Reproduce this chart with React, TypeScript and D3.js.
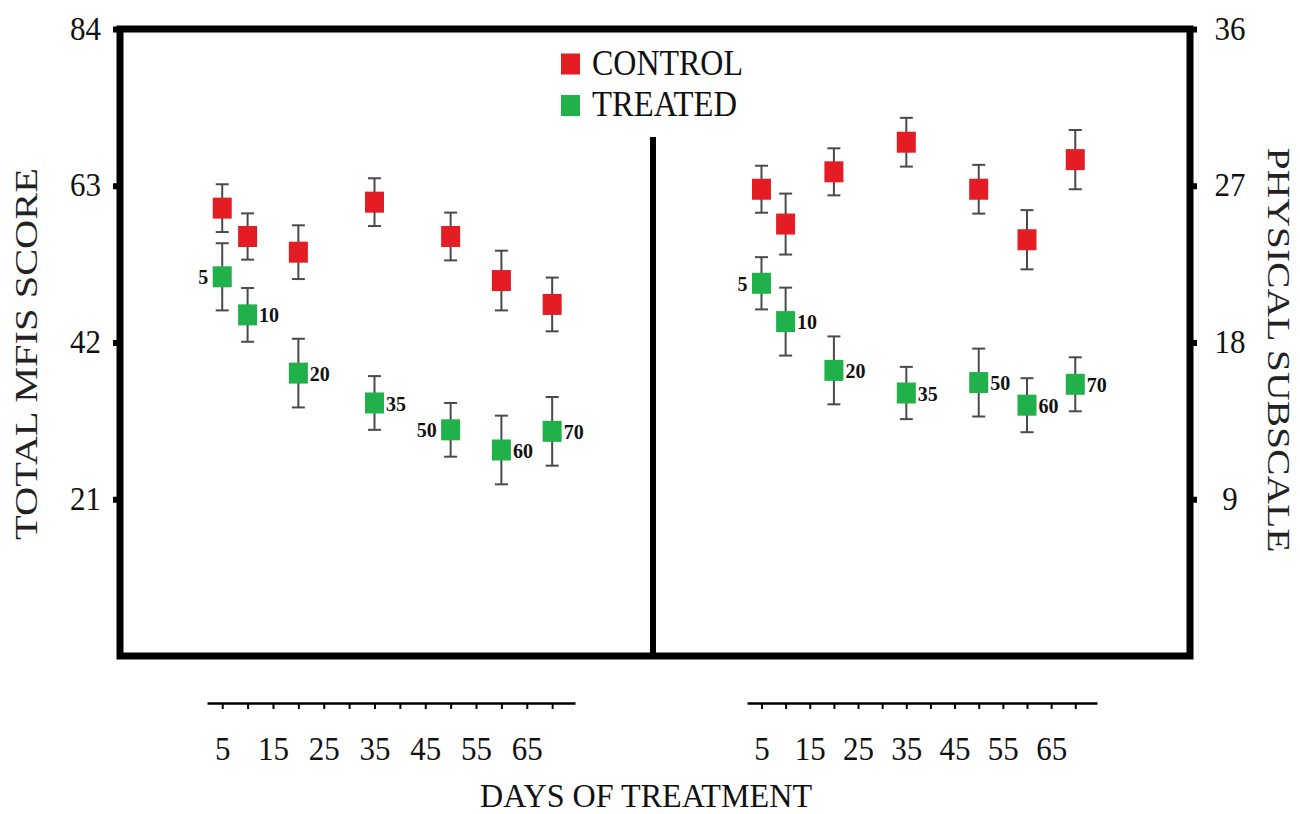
import React, { useEffect, useRef } from 'react';
import * as d3 from 'd3';

const days = [5, 10, 20, 35, 50, 60, 70];

// left panel: total MFIS score
const mfisControl = [60.0, 56.2, 54.1, 60.8, 56.2, 50.3, 47.1];
const mfisControlErr = [3.2, 3.1, 3.6, 3.2, 3.2, 4.0, 3.6];
const mfisTreated = [50.8, 45.7, 37.9, 33.9, 30.3, 27.6, 30.1];
const mfisTreatedErr = [4.5, 3.6, 4.6, 3.6, 3.6, 4.6, 4.6];

// right panel: physical subscale
const physControl = [26.8, 24.8, 27.8, 29.5, 26.8, 23.9, 28.5];
const physControlErr = [1.35, 1.75, 1.35, 1.4, 1.4, 1.7, 1.7];
const physTreated = [21.4, 19.2, 16.4, 15.1, 15.7, 14.4, 15.6];
const physTreatedErr = [1.5, 1.95, 1.95, 1.5, 1.95, 1.55, 1.55];

const leftTicks = [21, 42, 63, 84];
const rightTicks = [9, 18, 27, 36];
const dayTicks = [5, 10, 15, 20, 25, 30, 35, 40, 45, 50, 55, 60, 65, 70];
const dayLabels = [5, 15, 25, 35, 45, 55, 65];

// which treated labels sit left of the marker
const leftLabelsMfis = [5, 50];
const leftLabelsPhys = [5];

const RED = '#e41d25';
const GREEN = '#20b14b';
const FONT = '"Liberation Serif", "Times New Roman", serif';
const STRETCH = 1.12; // the source image text is a bit taller than wide

function App() {
  const ref = useRef<SVGSVGElement>(null);

  useEffect(() => {
    document.body.style.margin = '0';
    const svg = d3.select(ref.current);
    svg.selectAll('*').remove();

    const frame = { left: 120, top: 29, right: 1190, bottom: 656 };
    const divider = { x: 653, top: 137 };

    const yLeft = d3.scaleLinear().domain([0, 84]).range([frame.bottom, frame.top]);
    const yRight = d3.scaleLinear().domain([0, 36]).range([frame.bottom, frame.top]);
    const xLeft = d3.scaleLinear().domain([2, 74.5]).range([207, 575]);
    const xRight = d3.scaleLinear().domain([2, 74.5]).range([747, 1097]);

    // y axes
    const gl = svg.append('g')
      .attr('transform', `translate(${frame.left},0)`)
      .call(d3.axisLeft(yLeft).tickValues(leftTicks).tickSize(7).tickPadding(12).tickSizeOuter(0));
    gl.select('.domain').remove();
    gl.selectAll('.tick line').attr('stroke', '#000').attr('stroke-width', 6);
    gl.selectAll('.tick text')
      .attr('dy', '0.29em')
      .attr('transform', `scale(1,${STRETCH})`)
      .attr('font-family', FONT).attr('font-size', 31).attr('fill', '#111');

    const gr = svg.append('g')
      .attr('transform', `translate(${frame.right},0)`)
      .call(d3.axisRight(yRight).tickValues(rightTicks).tickSize(7).tickPadding(33).tickSizeOuter(0));
    gr.select('.domain').remove();
    gr.selectAll('.tick line').attr('stroke', '#000').attr('stroke-width', 6);
    gr.selectAll('.tick text')
      .attr('dy', '0.29em')
      .attr('transform', `scale(1,${STRETCH})`)
      .attr('text-anchor', 'middle')
      .attr('font-family', FONT).attr('font-size', 31).attr('fill', '#111');

    // frame + divider
    svg.append('rect')
      .attr('x', frame.left).attr('y', frame.top)
      .attr('width', frame.right - frame.left).attr('height', frame.bottom - frame.top)
      .attr('fill', 'none').attr('stroke', '#000').attr('stroke-width', 7);
    svg.append('line')
      .attr('x1', divider.x).attr('x2', divider.x)
      .attr('y1', divider.top).attr('y2', frame.bottom)
      .attr('stroke', '#000').attr('stroke-width', 6);

    // x axes below the frame
    [xLeft, xRight].forEach(x => {
      const g = svg.append('g')
        .attr('transform', 'translate(0,703)')
        .call(d3.axisBottom(x).tickValues(dayTicks).tickSize(6).tickSizeOuter(0).tickPadding(23)
          .tickFormat(d => (dayLabels.includes(+d) ? String(d) : '')));
      g.select('.domain').attr('stroke', '#000').attr('stroke-width', 2.5);
      g.selectAll('.tick line').attr('stroke', '#000').attr('stroke-width', 2);
      g.selectAll('.tick text')
        .attr('transform', `scale(1,${STRETCH})`)
        .attr('font-family', FONT).attr('font-size', 31).attr('fill', '#111');
    });

    const drawSeries = (x, y, vals, errs, color, labelled, leftLabels) => {
      const g = svg.append('g');
      vals.forEach((v, i) => {
        const cx = x(days[i]);
        const top = y(v + errs[i]);
        const bot = y(v - errs[i]);
        g.append('line').attr('x1', cx).attr('x2', cx).attr('y1', top).attr('y2', bot)
          .attr('stroke', '#4a4a4a').attr('stroke-width', 2);
        [top, bot].forEach(yy => {
          g.append('line').attr('x1', cx - 6.5).attr('x2', cx + 6.5).attr('y1', yy).attr('y2', yy)
            .attr('stroke', '#4a4a4a').attr('stroke-width', 2);
        });
        g.append('rect')
          .attr('x', cx - 9.5).attr('y', y(v) - 10.5)
          .attr('width', 19).attr('height', 21)
          .attr('fill', color);
        if (labelled) {
          const onLeft = leftLabels.includes(days[i]);
          g.append('text')
            .attr('x', onLeft ? cx - 14 : cx + 11.5)
            .attr('y', y(v))
            .attr('dy', '0.38em')
            .attr('text-anchor', onLeft ? 'end' : 'start')
            .attr('font-family', FONT).attr('font-weight', 'bold').attr('font-size', 20)
            .attr('fill', '#111')
            .text(days[i]);
        }
      });
    };

    drawSeries(xLeft, yLeft, mfisControl, mfisControlErr, RED, false, []);
    drawSeries(xLeft, yLeft, mfisTreated, mfisTreatedErr, GREEN, true, leftLabelsMfis);
    drawSeries(xRight, yRight, physControl, physControlErr, RED, false, []);
    drawSeries(xRight, yRight, physTreated, physTreatedErr, GREEN, true, leftLabelsPhys);

    // legend
    const legend = [{ name: 'CONTROL', color: RED, y: 64 }, { name: 'TREATED', color: GREEN, y: 105.5 }];
    legend.forEach(l => {
      svg.append('rect').attr('x', 561).attr('y', l.y - 10.5).attr('width', 19).attr('height', 21).attr('fill', l.color);
      svg.append('text')
        .attr('transform', `translate(592,${l.y + 10.5}) scale(1,${STRETCH})`)
        .attr('font-family', FONT).attr('font-size', 32).attr('fill', '#111')
        .attr('textLength', l.name === 'CONTROL' ? 151 : 145).attr('lengthAdjust', 'spacingAndGlyphs')
        .text(l.name);
    });

    // axis titles
    svg.append('text')
      .attr('transform', 'translate(37,354) rotate(-90)')
      .attr('text-anchor', 'middle')
      .attr('font-family', FONT).attr('font-size', 32).attr('fill', '#222')
      .attr('textLength', 372).attr('lengthAdjust', 'spacingAndGlyphs')
      .text('TOTAL MFIS SCORE');
    svg.append('text')
      .attr('transform', 'translate(1268,350) rotate(90)')
      .attr('text-anchor', 'middle')
      .attr('font-family', FONT).attr('font-size', 32).attr('fill', '#222')
      .attr('textLength', 405).attr('lengthAdjust', 'spacingAndGlyphs')
      .text('PHYSICAL SUBSCALE');
    svg.append('text')
      .attr('transform', `translate(646,807) scale(1,${STRETCH})`)
      .attr('text-anchor', 'middle')
      .attr('font-family', FONT).attr('font-size', 31).attr('fill', '#111')
      .attr('textLength', 332).attr('lengthAdjust', 'spacingAndGlyphs')
      .text('DAYS OF TREATMENT');
  }, []);

  return (
    <svg ref={ref} width={1300} height={814} style={{ display: 'block', background: '#fff' }} />
  );
}

export default App;
